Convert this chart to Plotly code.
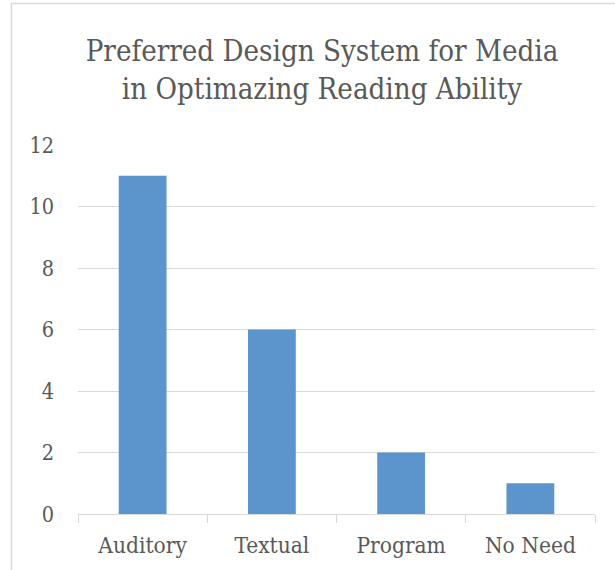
import plotly.graph_objects as go

categories = ["Auditory", "Textual", "Program", "No Need"]
values = [11, 6, 2, 1]
y_ticks = [0, 2, 4, 6, 8, 10, 12]

FONT = "DejaVu Serif Condensed, DejaVu Serif, serif"
GRAY = "#595959"
GRID = "#d9d9d9"

fig = go.Figure(go.Bar(x=categories, y=values, marker=dict(color="#5b95cb", line=dict(width=0))))

L, R, T, B = 78, 20, 145, 56
W, H = 615, 570
pw, ph = W - L - R, H - T - B

fig.update_layout(
    width=W, height=H,
    margin=dict(l=L, r=R, t=T, b=B),
    paper_bgcolor="white", plot_bgcolor="white",
    bargap=0.63,
    showlegend=False,
    title=dict(
        text="Preferred Design System for Media<br>in Optimazing Reading Ability",
        x=(322 - L) / pw, xanchor="center", xref="paper",
        y=1 - 61 / H, yanchor="top", yref="container",
        font=dict(family=FONT, size=29.2, color=GRAY),
    ),
    font=dict(family=FONT, color=GRAY),
)
fig.update_xaxes(
    type="category",
    showline=True, linecolor=GRID, linewidth=1,
    ticks="outside", tickson="boundaries", ticklen=8, tickcolor=GRID,
    ticklabelstandoff=11,
    tickfont=dict(family=FONT, size=22.5, color=GRAY),
    showgrid=False,
)
fig.update_yaxes(
    range=[0, 12], tickvals=y_ticks,
    showgrid=True, gridcolor=GRID, gridwidth=1,
    zeroline=False, showline=False, ticks="",
    ticklabelstandoff=23,
    tickfont=dict(family=FONT, size=21.5, color=GRAY),
)
fig.add_shape(
    type="rect", xref="paper", yref="paper",
    x0=(11.5 - L) / pw, x1=(W + 20 - L) / pw,
    y0=-(H + 20 - (H - B)) / ph, y1=((H - B) - 3.5) / ph,
    line=dict(color=GRID, width=1.5), fillcolor="rgba(0,0,0,0)", layer="below",
)
fig.write_html("out.html", config={"displayModeBar": False},
               post_script="document.body.style.margin='0';")
